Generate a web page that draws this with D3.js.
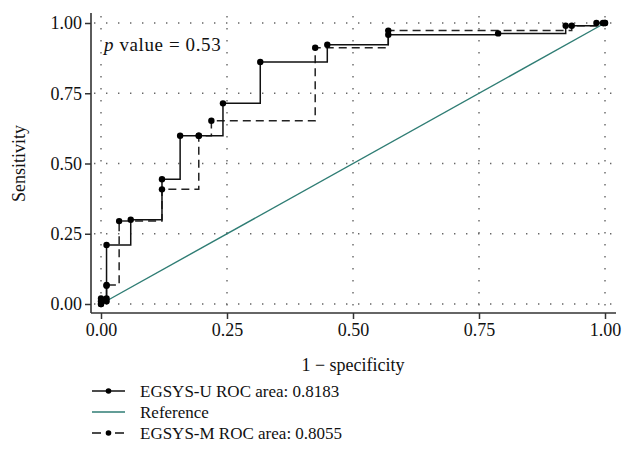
<!DOCTYPE html>
<html>
<head>
<meta charset="utf-8">
<script src="https://cdn.jsdelivr.net/npm/d3@7"></script>
<style>
  body { margin: 0; background: #fff; }
  svg { font-family: "Liberation Serif", "DejaVu Serif", serif; }
</style>
</head>
<body>
<div id="vis"></div>
<script>
// data (1 - specificity, sensitivity)
const U_FPR  = [0, 0, 0.011, 0.011, 0.011, 0.059, 0.121, 0.157, 0.194, 0.242, 0.316, 0.449, 0.570, 0.788, 0.922, 0.983, 1];
const U_TPR  = [0, 0.02, 0.02, 0.065, 0.21, 0.30, 0.444, 0.599, 0.599, 0.714, 0.861, 0.923, 0.958, 0.963, 0.99, 1, 1];
const M_FPR  = [0, 0, 0.011, 0.011, 0.036, 0.121, 0.194, 0.219, 0.425, 0.570, 0.934, 0.996, 1];
const M_TPR  = [0, 0.01, 0.01, 0.068, 0.295, 0.408, 0.599, 0.652, 0.912, 0.973, 0.99, 1, 1];
const REF_LINE = [[0, 0], [1, 1]];
const TICKS = [0, 0.25, 0.5, 0.75, 1];
const LEGEND = ["EGSYS-U ROC area: 0.8183", "Reference", "EGSYS-M ROC area: 0.8055"];
const P_TEXT = "0.53";

const FRAME_WIDTH = 624;
const FRAME_HEIGHT = 473;
const PLOT = {left: 91, right: 616, top: 13, bottom: 313};
const TEAL = "#2f7d74";
const FS = 18;

const svg = d3.select("#vis")
  .append("svg")
    .attr("width", FRAME_WIDTH)
    .attr("height", FRAME_HEIGHT);

const X = d3.scaleLinear().domain([0, 1]).range([101, 605]);
const Y = d3.scaleLinear().domain([0, 1]).range([304, 23]);

// dotted grid
svg.append("g").selectAll("line")
  .data(TICKS).enter().append("line")
    .attr("x1", PLOT.left).attr("x2", PLOT.right)
    .attr("y1", d => Y(d)).attr("y2", d => Y(d))
    .attr("stroke", "#666").attr("stroke-width", 1.4)
    .attr("stroke-dasharray", "1.4,10.6")
    .attr("stroke-dashoffset", -3);
svg.append("g").selectAll("line")
  .data(TICKS).enter().append("line")
    .attr("y1", PLOT.top).attr("y2", PLOT.bottom)
    .attr("x1", d => X(d)).attr("x2", d => X(d))
    .attr("stroke", "#666").attr("stroke-width", 1.4)
    .attr("stroke-dasharray", "1.4,10.6")
    .attr("stroke-dashoffset", -3);

// axes
const xAxis = svg.append("g")
  .attr("transform", "translate(0," + PLOT.bottom + ")")
  .call(d3.axisBottom(X).tickValues(TICKS).tickFormat(d3.format(".2f")).tickSize(6).tickSizeOuter(0));
const yAxis = svg.append("g")
  .attr("transform", "translate(" + PLOT.left + ",0)")
  .call(d3.axisLeft(Y).tickValues(TICKS).tickFormat(d3.format(".2f")).tickSize(6).tickSizeOuter(0));

[xAxis, yAxis].forEach(a => {
  a.select(".domain").remove();
  a.selectAll("line").attr("stroke", "#333").attr("stroke-width", 1.5);
  a.selectAll("text")
    .attr("font-family", "Liberation Serif, serif")
    .attr("font-size", FS)
    .attr("fill", "#111");
});
xAxis.selectAll("text").attr("y", 10);
yAxis.selectAll("text").attr("x", -9);

svg.append("line")
  .attr("x1", PLOT.left).attr("x2", PLOT.right)
  .attr("y1", PLOT.bottom).attr("y2", PLOT.bottom)
  .attr("stroke", "#333").attr("stroke-width", 1.6);
svg.append("line")
  .attr("x1", PLOT.left).attr("x2", PLOT.left)
  .attr("y1", PLOT.top).attr("y2", PLOT.bottom)
  .attr("stroke", "#333").attr("stroke-width", 1.6);

// axis titles
svg.append("text")
  .attr("x", (X(0) + X(1)) / 2).attr("y", 371)
  .attr("text-anchor", "middle")
  .attr("font-size", FS).attr("fill", "#111")
  .text("1 \u2212 specificity");
svg.append("text")
  .attr("transform", "translate(25," + Y(0.5) + ") rotate(-90)")
  .attr("text-anchor", "middle")
  .attr("font-size", FS).attr("fill", "#111")
  .text("Sensitivity");

// reference diagonal
const line = d3.line().x(d => X(d[0])).y(d => Y(d[1]));
svg.append("path")
  .attr("d", line(REF_LINE))
  .attr("fill", "none").attr("stroke", TEAL).attr("stroke-width", 1.4);

const mData = M_FPR.map((d, i) => [d, M_TPR[i]]);
const uData = U_FPR.map((d, i) => [d, U_TPR[i]]);
const step = d3.line().x(d => X(d[0])).y(d => Y(d[1])).curve(d3.curveStepAfter);

svg.append("path")
  .attr("d", step(mData))
  .attr("fill", "none").attr("stroke", "#222").attr("stroke-width", 1.5)
  .attr("stroke-dasharray", "8,5");
svg.append("path")
  .attr("d", step(uData))
  .attr("fill", "none").attr("stroke", "#111").attr("stroke-width", 1.5);

svg.append("g").selectAll("circle")
  .data(mData.concat(uData)).enter().append("circle")
    .attr("cx", d => X(d[0])).attr("cy", d => Y(d[1]))
    .attr("r", 3.2).attr("fill", "#000");

// p value annotation
const pt = svg.append("text")
  .attr("x", 104).attr("y", 51)
  .attr("font-size", 19).attr("fill", "#111")
  .attr("letter-spacing", 0.6);
pt.append("tspan").attr("font-style", "italic").text("p");
pt.append("tspan").text(" value = " + P_TEXT);

// legend
const LEG_Y = [391, 412, 433];
const leg = svg.append("g");
LEGEND.forEach((label, i) => {
  const y = LEG_Y[i];
  const l = leg.append("line")
    .attr("x1", 92).attr("x2", 125).attr("y1", y).attr("y2", y)
    .attr("stroke-width", 1.5);
  if (i === 1) l.attr("stroke", TEAL);
  else l.attr("stroke", "#111");
  if (i === 2) l.attr("stroke-dasharray", "9,14");
  if (i !== 1) {
    leg.append("circle").attr("cx", 108.5).attr("cy", y).attr("r", 2.8).attr("fill", "#000");
  }
  leg.append("text")
    .attr("x", 140).attr("y", y).attr("dy", "0.33em")
    .attr("font-size", 17).attr("fill", "#111")
    .text(label);
});
</script>
</body>
</html>
